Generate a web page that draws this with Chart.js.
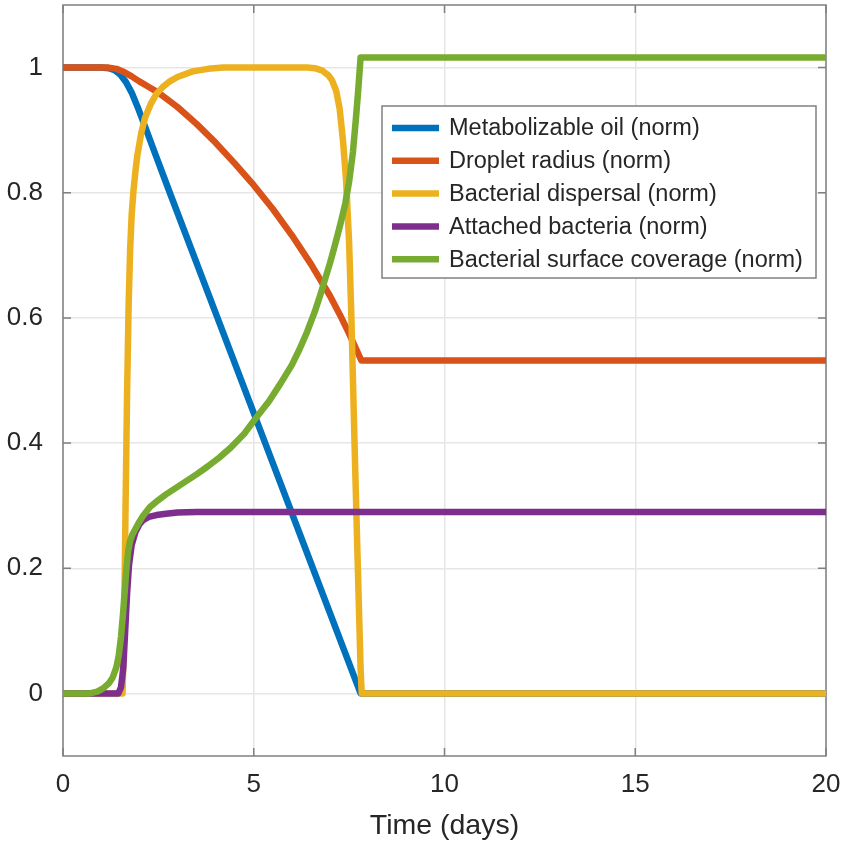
<!DOCTYPE html>
<html>
<head>
<meta charset="utf-8">
<script src="https://cdn.jsdelivr.net/npm/chart.js@4.4.1/dist/chart.umd.min.js"></script>
<style>
  body { margin: 0; background: #fff; }
</style>
</head>
<body>
<canvas id="bob-charting" width="846" height="843"></canvas>
<script>
// time (days) and normalised values
var tOil = [0, 1.0, 1.2, 1.35, 1.5, 1.65, 1.8, 1.95, 2.1, 2.4, 2.8, 4.05, 5.3, 6.55, 7.8, 20];
var vOil = [1, 1, 0.999, 0.996, 0.989, 0.977, 0.96, 0.938, 0.914, 0.865, 0.8, 0.6, 0.4, 0.2, 0, 0];

var tRadius = [0, 1.2, 1.4, 1.6, 1.8, 2.0, 2.25, 2.5, 3.0, 3.5, 4.0, 4.5, 5.0, 5.5, 6.0, 6.5, 7.0, 7.25, 7.5, 7.82, 20];
var vRadius = [1, 1, 0.998, 0.993, 0.986, 0.978, 0.969, 0.96, 0.937, 0.91, 0.88, 0.847, 0.812, 0.774, 0.732, 0.686, 0.635, 0.606, 0.575, 0.532, 0.532];

var tDisp = [0, 1.56, 1.6, 1.64, 1.68, 1.72, 1.76, 1.8, 1.85, 1.9, 1.95, 2.05, 2.15, 2.3, 2.45, 2.6, 2.8, 3.0, 3.4, 3.8, 4.2,
             6.4, 6.6, 6.8, 6.95, 7.05, 7.16, 7.25, 7.34, 7.42, 7.5, 7.56, 7.64, 7.72, 7.8, 7.83, 20];
var vDisp = [0, 0, 0.1, 0.3, 0.48, 0.62, 0.71, 0.765, 0.805, 0.835, 0.86, 0.895, 0.92, 0.942, 0.958, 0.968, 0.978, 0.985, 0.994, 0.998, 1,
             1, 0.999, 0.995, 0.988, 0.98, 0.963, 0.935, 0.883, 0.82, 0.72, 0.6, 0.404, 0.22, 0.04, 0, 0];

var tAttached = [0, 1.45, 1.52, 1.58, 1.63, 1.68, 1.73, 1.8, 1.9, 2.0, 2.1, 2.25, 2.45, 2.7, 3.0, 3.5, 20];
var vAttached = [0, 0, 0.01, 0.04, 0.1, 0.16, 0.205, 0.237, 0.258, 0.27, 0.277, 0.282, 0.285, 0.287, 0.289, 0.29, 0.29];

var tCoverage = [0, 0.7, 0.9, 1.05, 1.2, 1.3, 1.4, 1.46, 1.52, 1.57, 1.62, 1.66, 1.71, 1.76, 1.82, 1.9, 2.0, 2.1, 2.28, 2.5, 2.7, 2.95, 3.2, 3.5, 3.8, 4.1,
                 4.4, 4.75, 5.07, 5.4, 5.7, 6.0, 6.2, 6.4, 6.6, 6.75, 6.86, 7.0, 7.1, 7.2, 7.3, 7.4, 7.5, 7.6, 7.68, 7.74, 7.8, 20];
var vCoverage = [0, 0, 0.003, 0.008, 0.016, 0.025, 0.042, 0.06, 0.09, 0.125, 0.165, 0.198, 0.228, 0.244, 0.254, 0.263, 0.274, 0.284, 0.298, 0.309, 0.318, 0.328, 0.338, 0.35, 0.363, 0.377,
                 0.393, 0.415, 0.441, 0.467, 0.495, 0.525, 0.55, 0.578, 0.61, 0.638, 0.66, 0.688, 0.71, 0.733, 0.757, 0.783, 0.818, 0.865, 0.92, 0.965, 1.016, 1.016];

var seriesNames = ["Metabolizable oil (norm)", "Droplet radius (norm)", "Bacterial dispersal (norm)", "Attached bacteria (norm)", "Bacterial surface coverage (norm)"];
var seriesColors = ["#0072BD", "#D95319", "#EDB120", "#7E2F8E", "#77AC30"];

var xTicks = [0, 5, 10, 15, 20];
var yTicks = [0, 0.2, 0.4, 0.6, 0.8, 1];

function pts(t, v) {
    return t.map(function (x, i) { return { x: x, y: v[i] }; });
}

var allSeries = [[tOil, vOil], [tRadius, vRadius], [tDisp, vDisp], [tAttached, vAttached], [tCoverage, vCoverage]];

var datasets = allSeries.map(function (s, i) {
    return {
        label: seriesNames[i],
        data: pts(s[0], s[1]),
        borderColor: seriesColors[i],
        backgroundColor: seriesColors[i],
        borderWidth: 6.5,
        borderCapStyle: 'round',
        borderJoinStyle: 'round',
        pointRadius: 0,
        tension: 0,
        fill: false,
        order: allSeries.length - i   // later series drawn on top, like matlab
    };
});

var FONT = "'Liberation Sans', Arial, sans-serif";

// frame with inward tick marks on all four sides
var framePlugin = {
    id: 'frame',
    beforeDatasetsDraw: function (chart) {
        var ctx = chart.ctx, a = chart.chartArea;
        var xs = chart.scales.x, ys = chart.scales.y;
        ctx.save();
        ctx.strokeStyle = '#808080';
        ctx.lineWidth = 1.5;
        ctx.strokeRect(a.left, a.top, a.right - a.left, a.bottom - a.top);
        ctx.beginPath();
        xTicks.forEach(function (v) {
            var px = xs.getPixelForValue(v);
            ctx.moveTo(px, a.bottom); ctx.lineTo(px, a.bottom - 8);
            ctx.moveTo(px, a.top); ctx.lineTo(px, a.top + 8);
        });
        yTicks.forEach(function (v) {
            var py = ys.getPixelForValue(v);
            ctx.moveTo(a.left, py); ctx.lineTo(a.left + 8, py);
            ctx.moveTo(a.right, py); ctx.lineTo(a.right - 8, py);
        });
        ctx.stroke();
        ctx.restore();
    }
};

// legend box inside the axes, top right
var boxLegend = {
    id: 'boxLegend',
    afterDraw: function (chart) {
        var ctx = chart.ctx;
        var left = 382, top = 106, w = 434, h = 172;
        ctx.save();
        ctx.fillStyle = '#ffffff';
        ctx.fillRect(left, top, w, h);
        ctx.strokeStyle = '#808080';
        ctx.lineWidth = 1.5;
        ctx.strokeRect(left, top, w, h);
        ctx.font = '23.5px ' + FONT;
        ctx.textBaseline = 'middle';
        chart.data.datasets.forEach(function (ds, i) {
            var y = top + 22 + i * 32.8;
            ctx.strokeStyle = ds.borderColor;
            ctx.lineWidth = 6.5;
            ctx.beginPath();
            ctx.moveTo(392, y); ctx.lineTo(439, y);
            ctx.stroke();
            ctx.fillStyle = '#262626';
            ctx.fillText(ds.label, 449, y + 1);
        });
        ctx.restore();
    }
};

var myChart = new Chart(document.getElementById("bob-charting"), {
    type: 'line',
    data: { datasets: datasets },
    options: {
        responsive: false,
        animation: false,
        devicePixelRatio: 1,
        layout: { padding: { top: 5, right: 20, left: 0, bottom: 0 } },
        plugins: { legend: { display: false }, tooltip: { enabled: false } },
        scales: {
            x: {
                type: 'linear',
                min: 0, max: 20,
                afterBuildTicks: function (s) { s.ticks = xTicks.map(function (v) { return { value: v }; }); },
                afterFit: function (s) { s.height = 87; s.paddingLeft = 0; s.paddingRight = 0; },
                grid: { color: '#e6e6e6', lineWidth: 1.5, drawTicks: false },
                border: { display: false },
                ticks: { color: '#262626', font: { family: FONT, size: 26 }, padding: 13, maxRotation: 0 },
                title: { display: true, text: 'Time (days)', color: '#262626', font: { family: FONT, size: 28.5 }, padding: { top: 0, bottom: 0 } }
            },
            y: {
                type: 'linear',
                min: -0.1, max: 1.1,
                afterBuildTicks: function (s) { s.ticks = yTicks.map(function (v) { return { value: v }; }); },
                afterFit: function (s) { s.width = 63; s.paddingTop = 0; s.paddingBottom = 0; },
                grid: { color: '#e6e6e6', lineWidth: 1.5, drawTicks: false },
                border: { display: false },
                ticks: { color: '#262626', font: { family: FONT, size: 26 }, padding: 20,
                    callback: function (v) { return String(Math.round(v * 10) / 10); } }
            }
        }
    },
    plugins: [framePlugin, boxLegend]
});
</script>
</body>
</html>
